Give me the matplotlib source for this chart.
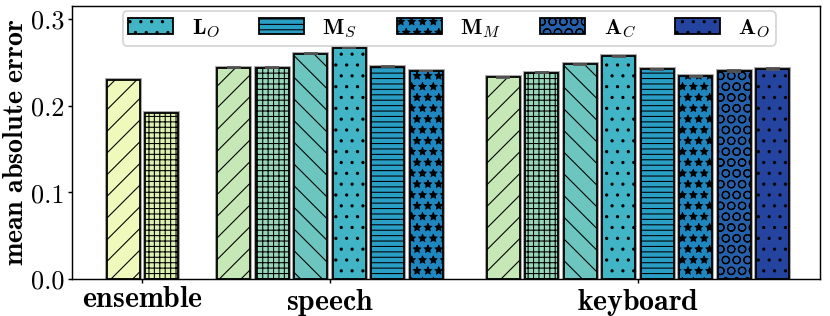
import numpy as np
import matplotlib
matplotlib.use("Agg")
import matplotlib.pyplot as plt
from matplotlib.patches import Patch

plt.rcParams['mathtext.fontset'] = 'cm'
plt.rcParams['font.family'] = 'serif'
plt.rcParams['font.serif'] = ['cmr10']
plt.rcParams['axes.formatter.use_mathtext'] = True
plt.rcParams['hatch.linewidth'] = 0.6

# data
groups = ['ensemble', 'speech', 'keyboard']
ensemble_mae = [0.230, 0.191]
speech_mae = [0.244, 0.244, 0.260, 0.267, 0.245, 0.240]
keyboard_mae = [0.233, 0.238, 0.248, 0.257, 0.242, 0.234, 0.240, 0.242]
ensemble_err = [0.0, 0.0]
speech_err = [0.0005, 0.0005, 0.0005, 0.0008, 0.0005, 0.0005]
keyboard_err = [0.0006, 0.0006, 0.0006, 0.0008, 0.0006, 0.0006, 0.0008, 0.0012]

# styles per method
ens_colors = ['#eff9bb', '#dcf0b2']
ens_hatches = ['//', '++++']
method_colors = ['#c6e8b6', '#97d6b9', '#6cc6bf', '#41b5c5', '#2a9fc6',
                 '#1f87c0', '#2560ab', '#2444a0']
method_hatches = ['//', '++++', '\\\\', '..', '----', '**', 'OO', '..']
legend_labels = [r'$\mathbf{L}_O$', r'$\mathbf{M}_S$', r'$\mathbf{M}_M$',
                 r'$\mathbf{A}_C$', r'$\mathbf{A}_O$']
legend_idx = [3, 4, 5, 6, 7]

dpi = 130
fig = plt.figure(figsize=(830.5 / dpi, 316.5 / dpi), dpi=dpi)
ax = fig.add_axes([0.0867, 0.117, 0.901, 0.864])

width = 0.86
centers = [0.0, 4.87, 12.87]


def draw_group(center, vals, errs, colors, hatches):
    n = len(vals)
    xs = center + np.arange(n) - (n - 1) / 2
    for x, v, e, c, h in zip(xs, vals, errs, colors, hatches):
        ax.bar(x, v, width, color='none', edgecolor='#a8a8a8', linewidth=2.2, zorder=1)
        ax.bar(x, v, width, color=c, edgecolor='black', hatch=h, linewidth=1.0, zorder=2)
        if e > 0:
            ax.errorbar(x, v, yerr=e, color='#555555', capsize=4, elinewidth=1,
                        capthick=1.0, zorder=3)


draw_group(centers[0], ensemble_mae, ensemble_err, ens_colors, ens_hatches)
draw_group(centers[1], speech_mae, speech_err, method_colors[:6], method_hatches[:6])
draw_group(centers[2], keyboard_mae, keyboard_err, method_colors, method_hatches)

ax.set_xlim(-1.83, 17.6)
ax.set_ylim(0, 0.3156)
ax.set_yticks([0.0, 0.1, 0.2, 0.3])
ax.set_yticklabels(['0.0', '0.1', '0.2', '0.3'])
ax.set_xticks(centers)
ax.set_xticklabels([r'$\mathbf{%s}$' % g for g in groups])
ax.tick_params(axis='y', labelsize=14.5, length=2, pad=2)
ax.tick_params(axis='x', labelsize=16.5, length=2, pad=2)
ax.set_ylabel(r'$\mathbf{mean\ absolute\ error}$', fontsize=15.5, labelpad=1)

handles = [Patch(facecolor=method_colors[i], edgecolor='black', hatch=method_hatches[i])
           for i in legend_idx]
ax.legend(handles, legend_labels, loc='upper center', bbox_to_anchor=(0.504, 0.995),
          ncol=5, fontsize=12.5, handlelength=2.0, handletextpad=0.8,
          columnspacing=1.75, borderaxespad=0.2, borderpad=0.25)

fig.savefig('out.png', dpi=dpi)
